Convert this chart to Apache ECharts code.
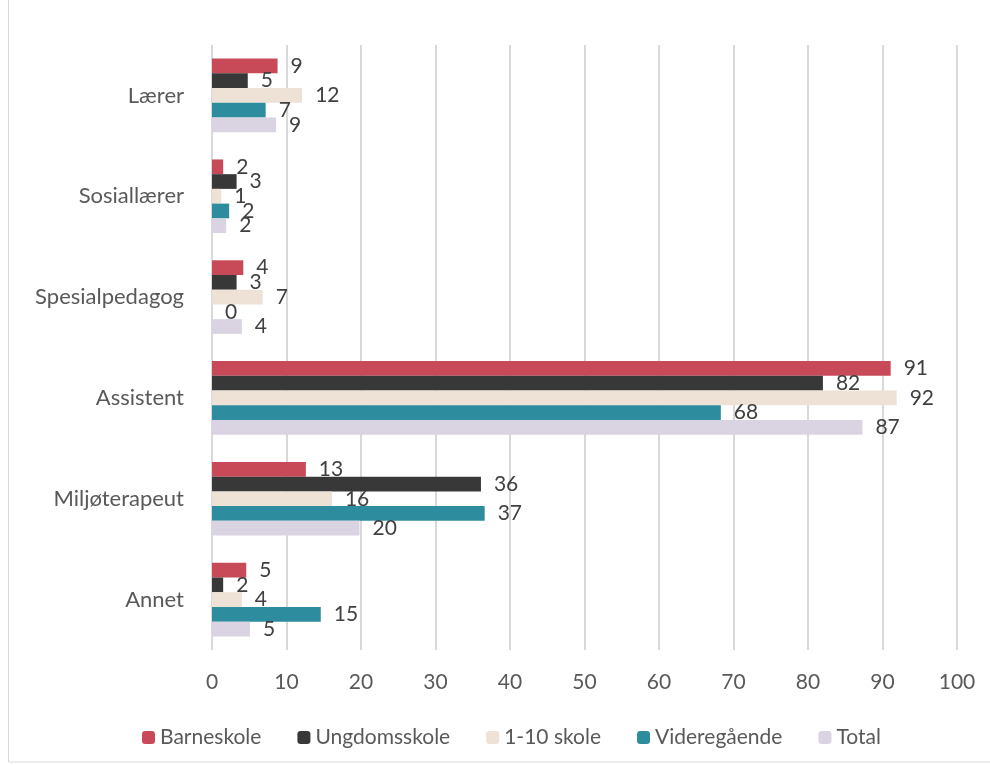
<!DOCTYPE html>
<html>
<head>
<meta charset="utf-8">
<script src="https://cdn.jsdelivr.net/npm/echarts@6/dist/echarts.min.js"></script>
<style>
  html, body { margin: 0; padding: 0; background: #fff; }
  #main { width: 990px; height: 765px; }
</style>
</head>
<body>
<div id="main"></div>
<script>
// kategorier og verdier (lest av figuren)
var categories = ['Lærer', 'Sosiallærer', 'Spesialpedagog', 'Assistent', 'Miljøterapeut', 'Annet'];
var seriesNames = ['Barneskole', 'Ungdomsskole', '1-10 skole', 'Videregående', 'Total'];
var barneskole   = [8.8, 1.5, 4.2, 91.1, 12.6, 4.6];
var ungdomsskole = [4.8, 3.3, 3.3, 82.0, 36.1, 1.5];
var skole110     = [12.1, 1.25, 6.8, 91.9, 16.1, 4.0];
var videregaaende = [7.2, 2.3, 0, 68.3, 36.6, 14.6];
var total        = [8.6, 1.9, 4.0, 87.3, 19.8, 5.1];
var xTicks = [0, 10, 20, 30, 40, 50, 60, 70, 80, 90, 100];

var colors = ['#C84A59', '#383838', '#EDE2D5', '#2D8C9E', '#DAD3E1'];
var allData = [barneskole, ungdomsskole, skole110, videregaaende, total];

var myChart = echarts.init(document.getElementById('main'));

var series = seriesNames.map(function (name, i) {
    return {
        name: name,
        type: 'bar',
        data: allData[i],
        barGap: '0%',
        barCategoryGap: '27%',
        itemStyle: { color: colors[i] },
        label: {
            show: true,
            position: 'right',
            distance: 13,
            color: '#404040',
            fontSize: 21,
            fontFamily: 'Lato',
            formatter: function (p) { return Math.round(p.value); }
        }
    };
});

var option = {
    color: colors,
    animation: false,
    grid: { left: 212, right: 33, top: 45, bottom: 115 },
    xAxis: {
        type: 'value',
        min: xTicks[0],
        max: xTicks[xTicks.length - 1],
        interval: 10,
        axisLine: { show: false },
        axisTick: { show: false },
        axisLabel: { color: '#595959', fontSize: 21, fontFamily: 'Lato', margin: 22 },
        splitLine: { show: true, lineStyle: { color: '#d9d9d9', width: 2 } }
    },
    yAxis: {
        type: 'category',
        data: categories,
        inverse: true,
        axisLine: { show: false },
        axisTick: { show: false },
        axisLabel: { color: '#595959', fontSize: 22, fontFamily: 'Lato', margin: 28 }
    },
    legend: {
        data: seriesNames,
        left: 137,
        top: 722,
        itemWidth: 13,
        itemHeight: 13,
        itemGap: 36,
        textStyle: { color: '#595959', fontSize: 21, fontFamily: 'Lato' }
    },
    graphic: [{
        type: 'rect',
        shape: { x: 8.5, y: -2, width: 990, height: 764 },
        style: { fill: 'none', stroke: '#d9d9d9', lineWidth: 1 },
        silent: true
    }],
    series: series
};

myChart.setOption(option);
</script>
</body>
</html>
